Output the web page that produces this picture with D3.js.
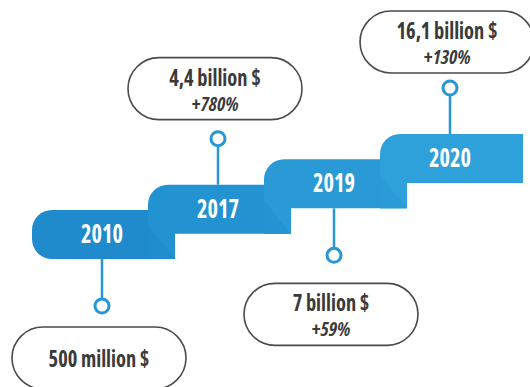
<!DOCTYPE html>
<html>
<head>
<meta charset="utf-8">
<script src="https://cdn.jsdelivr.net/npm/d3@7/dist/d3.min.js"></script>
<style>
  html, body { margin: 0; padding: 0; background: #ffffff; }
  svg { display: block; }
  text { font-family: "Open Sans", "Roboto", sans-serif; font-stretch: 75%; }
</style>
</head>
<body>
<svg id="chart" width="530" height="387"></svg>
<script>
// Revenue milestones by year
const years = ["2010", "2017", "2019", "2020"];
const revenueBillions = [0.5, 4.4, 7, 16.1];
const revenueLabels = ["500 million $", "4,4 billion $", "7 billion $", "16,1 billion $"];
const growthLabels = ["", "+780%", "+59%", "+130%"];

// Styling
const stepColors = ["#1f8bcd", "#2392d1", "#2a9ad6", "#2fa1da"];
const accent = "#2696d6";
const ink = "#3a3a3a";

const svg = d3.select("#chart");

// Step geometry: each year is a stair step rising to the right
const xStep = d3.scalePoint().domain(years).range([32, 380]);
const yStepTop = d3.scalePoint().domain(years).range([210, 134]);
const stepH = 49, tab = 27, r = 20, lastRight = 523;
const labelOffset = 70;
// space between a pin and its callout bubble
const calloutGap = [21, 19, 28, 15];

const steps = years.map((yr, i) => {
  const x0 = xStep(yr), t = yStepTop(yr), b = t + stepH;
  const right = i < years.length - 1 ? xStep(years[i + 1]) + tab : lastRight;
  const prevBottom = i > 0 ? yStepTop(years[i - 1]) + stepH : b;
  return { yr, i, x0, t, b, right, prevBottom, cx: x0 + labelOffset };
});

function stepPath(s) {
  const p = d3.path();
  p.moveTo(s.x0 + r, s.t);
  p.lineTo(s.right, s.t);
  p.lineTo(s.right, s.b);
  if (s.i === 0) {
    p.lineTo(s.x0 + r, s.b);
    p.arcTo(s.x0, s.b, s.x0, s.b - r, r);
    p.lineTo(s.x0, s.t + r);
  } else {
    p.lineTo(s.x0 + tab, s.b);
    p.lineTo(s.x0 + tab, s.prevBottom);
    p.lineTo(s.x0, s.prevBottom);
    p.lineTo(s.x0, s.t + r);
  }
  p.arcTo(s.x0, s.t, s.x0 + r, s.t, r);
  p.closePath();
  return p.toString();
}

const g = svg.append("g");

// Steps, drawn left to right so each one overlaps the previous
const stepG = g.selectAll("g.step").data(steps).join("g").attr("class", "step");
stepG.append("path")
  .attr("d", stepPath)
  .attr("fill", (d, i) => stepColors[i]);

// Folded corner where a step meets the one below it
stepG.filter(d => d.i > 0).append("path")
  .attr("d", d => `M${d.x0},${d.b - 8}L${d.x0 + tab},${d.prevBottom}L${d.x0},${d.prevBottom}Z`)
  .attr("fill", d => stepColors[d.i - 1])
  .attr("opacity", 0.85);

// Year labels
stepG.append("text")
  .attr("transform", d => `translate(${d.cx},${d.t + 33}) scale(0.86,1)`)
  .attr("text-anchor", "middle")
  .attr("font-size", 26)
  .attr("font-weight", "bold")
  .attr("fill", "#ffffff")
  .text(d => d.yr);

// Connectors, pins and value callouts (alternating below / above)
const pinR = 7, pinDist = 47, boxW = 174, boxH = 62;
steps.forEach(s => {
  const below = s.i % 2 === 0;
  const cy = below ? s.b + pinDist : s.t - pinDist + 1;
  g.append("line")
    .attr("x1", s.cx).attr("x2", s.cx)
    .attr("y1", below ? s.b : cy + pinR)
    .attr("y2", below ? cy - pinR : s.t)
    .attr("stroke", accent).attr("stroke-width", 2.5);
  g.append("circle")
    .attr("cx", s.cx).attr("cy", cy).attr("r", pinR)
    .attr("fill", "#ffffff").attr("stroke", accent).attr("stroke-width", 3);

  const gap = calloutGap[s.i];
  const boxTop = below ? cy + gap : cy - gap - boxH;
  const bx = s.cx - 3;
  g.append("rect")
    .attr("x", bx - boxW / 2).attr("y", boxTop)
    .attr("width", boxW).attr("height", boxH)
    .attr("rx", boxH / 2).attr("ry", boxH / 2)
    .attr("fill", "#ffffff").attr("stroke", "#4a4a4a").attr("stroke-width", 1.6);

  const hasGrowth = growthLabels[s.i] !== "";
  g.append("text")
    .attr("transform", `translate(${bx},${boxTop + (hasGrowth ? 28 : 40)}) scale(0.85,1)`)
    .attr("text-anchor", "middle")
    .attr("font-size", 24)
    .attr("font-weight", "bold")
    .attr("fill", ink)
    .text(revenueLabels[s.i]);
  if (hasGrowth) {
    g.append("text")
      .attr("x", bx)
      .attr("y", boxTop + 53)
      .attr("text-anchor", "middle")
      .attr("font-size", 19)
      .attr("font-style", "italic")
      .attr("font-weight", "bold")
      .attr("fill", ink)
      .text(growthLabels[s.i]);
  }
});
</script>
</body>
</html>
